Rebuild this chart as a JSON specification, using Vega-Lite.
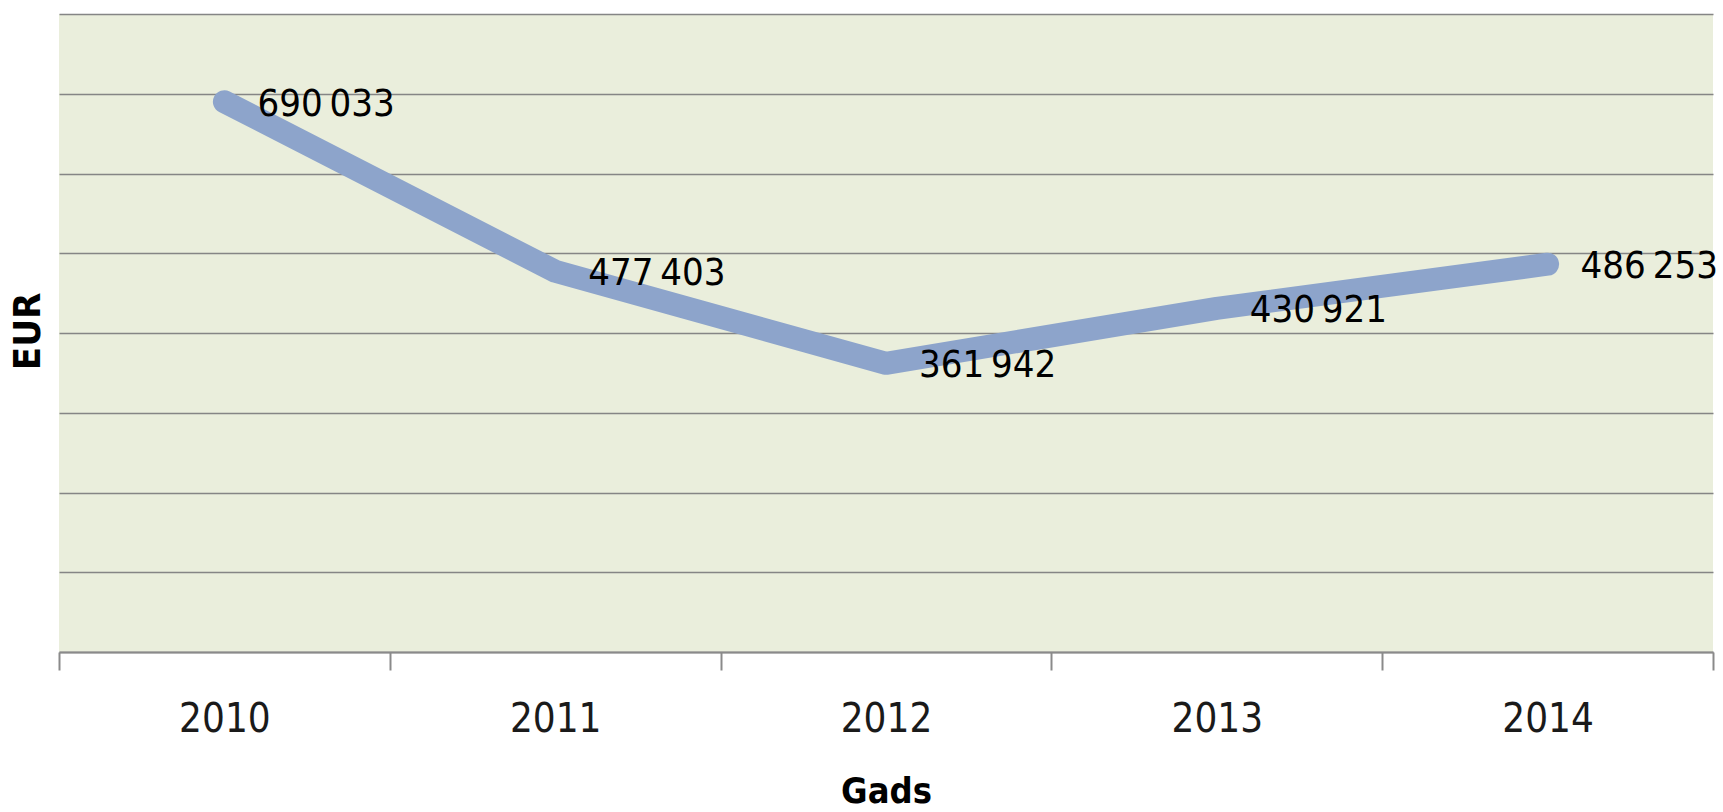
{
  "$schema": "https://vega.github.io/schema/vega-lite/v6.json",
  "autosize": {"type": "none"},
  "width": 1654,
  "height": 638,
  "padding": {"left": 59, "top": 14, "right": 10, "bottom": 160},
  "background": "#ffffff",
  "config": {
    "view": {"fill": "#EAEEDC", "stroke": null},
    "locale": {"number": {"decimal": ",", "thousands": "\u2009", "grouping": [3], "currency": ["", " €"]}},
    "font": "DejaVu Sans Condensed, sans-serif"
  },
  "data": {
    "values": [
      {"Gads": "2010", "EUR": 690033},
      {"Gads": "2011", "EUR": 477403},
      {"Gads": "2012", "EUR": 361942},
      {"Gads": "2013", "EUR": 430921},
      {"Gads": "2014", "EUR": 486253}
    ]
  },
  "encoding": {
    "x": {
      "field": "Gads",
      "type": "ordinal",
      "scale": {"paddingInner": 0, "paddingOuter": 0},
      "axis": {
        "title": "Gads",
        "titleFontSize": 36,
        "titleFontWeight": "bold",
        "titleColor": "#000000",
        "titleX": 827,
        "titleY": 139,
        "titleBaseline": "middle",
        "titleAlign": "center",
        "labelAngle": 0,
        "labelFontSize": 40,
        "labelColor": "#1a1a1a",
        "labelPadding": 29,
        "tickBand": "extent",
        "tickSize": 18,
        "tickColor": "#8a8a8a",
        "tickWidth": 2,
        "domainColor": "#8a8a8a",
        "domainWidth": 2,
        "grid": false
      }
    },
    "y": {
      "field": "EUR",
      "type": "quantitative",
      "scale": {"domain": [0, 800000], "nice": false},
      "axis": {
        "title": "EUR",
        "titleFontSize": 38,
        "titleFontWeight": "bold",
        "titleColor": "#000000",
        "titleAngle": -90,
        "titleX": -31,
        "titleY": 317,
        "titleAlign": "center",
        "titleBaseline": "middle",
        "values": [0, 100000, 200000, 300000, 400000, 500000, 600000, 700000, 800000],
        "labels": false,
        "ticks": false,
        "domain": false,
        "grid": true,
        "gridColor": "#858585",
        "gridWidth": 1.6
      }
    }
  },
  "layer": [
    {
      "mark": {"type": "line", "color": "#8DA4CB", "strokeWidth": 23, "strokeCap": "round", "strokeJoin": "round"}
    },
    {
      "mark": {"type": "text", "align": "left", "baseline": "middle", "dx": 33, "dy": 3, "fontSize": 38, "color": "#000000"},
      "encoding": {"text": {"field": "EUR", "type": "quantitative", "format": ","}}
    }
  ]
}
